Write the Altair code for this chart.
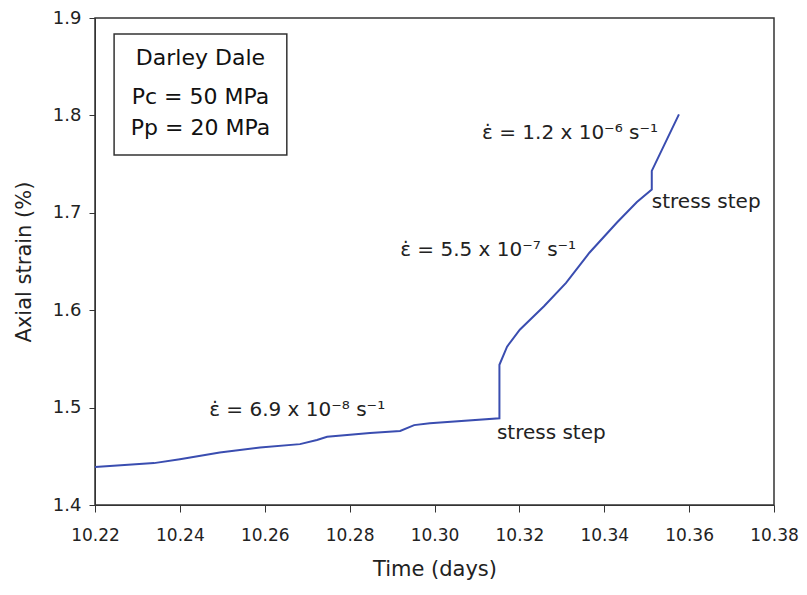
import altair as alt
import pandas as pd

# strain curve (time in days, axial strain in %)
time_days = [10.2200, 10.2339, 10.2400, 10.2494, 10.2589, 10.2683, 10.2723, 10.2747,
             10.2848, 10.2919, 10.2952, 10.2989, 10.3153, 10.3153, 10.3171, 10.3201,
             10.3258, 10.3310, 10.3365, 10.3430, 10.3477, 10.3512, 10.3512, 10.3576]
strain = [1.439, 1.443, 1.447, 1.454, 1.459, 1.4625, 1.4667, 1.470,
          1.474, 1.476, 1.482, 1.484, 1.489, 1.544, 1.5626, 1.580,
          1.604, 1.628, 1.659, 1.690, 1.711, 1.724, 1.743, 1.801]

# annotations
ann_text = ["ε̇ = 1.2 x 10⁻⁶ s⁻¹", "ε̇ = 5.5 x 10⁻⁷ s⁻¹", "ε̇ = 6.9 x 10⁻⁸ s⁻¹",
            "stress step", "stress step"]
ann_x = [10.3112, 10.2919, 10.2469, 10.3147, 10.3512]
ann_y = [1.782, 1.662, 1.4975, 1.474, 1.711]

# info box
box_lines = ["Darley Dale", "Pc = 50 MPa", "Pp = 20 MPa"]
box_line_y = [1.8589, 1.8189, 1.7871]
box_x0, box_x1 = 10.2245, 10.2652
box_y0, box_y1 = 1.7593, 1.8836

x_ticks = [10.22, 10.24, 10.26, 10.28, 10.30, 10.32, 10.34, 10.36, 10.38]
y_ticks = [1.4, 1.5, 1.6, 1.7, 1.8, 1.9]

FONT = "DejaVu Sans"

df = pd.DataFrame({"t": time_days, "s": strain, "i": list(range(len(time_days)))})
ann = pd.DataFrame({"t": ann_x, "s": ann_y, "label": ann_text})
box = pd.DataFrame({"x0": [box_x0], "x1": [box_x1], "y0": [box_y0], "y1": [box_y1]})
boxtxt = pd.DataFrame({"t": [(box_x0 + box_x1) / 2] * 3, "s": box_line_y, "label": box_lines})

xs = alt.Scale(domain=[10.22, 10.38], nice=False, zero=False)
ys = alt.Scale(domain=[1.4, 1.9], nice=False, zero=False)

line = alt.Chart(df).mark_line(color="#3a4db0", strokeWidth=2).encode(
    x=alt.X("t:Q", scale=xs,
            axis=alt.Axis(title="Time (days)", values=x_ticks, format=".2f", grid=False,
                          tickSize=7, labelPadding=15, titlePadding=15,
                          labelFontSize=17, titleFontSize=21, titleFontWeight="normal",
                          labelFont=FONT, titleFont=FONT, labelColor="#222", titleColor="#222",
                          domainColor="#333", tickColor="#333", labelFlush=False)),
    y=alt.Y("s:Q", scale=ys,
            axis=alt.Axis(title="Axial strain (%)", values=y_ticks, format=".1f", grid=False,
                          tickSize=6, labelPadding=8, titlePadding=18,
                          labelFontSize=18, titleFontSize=21, titleFontWeight="normal",
                          labelFont=FONT, titleFont=FONT, labelColor="#222", titleColor="#222",
                          domainColor="#333", tickColor="#333", labelFlush=False)),
    order="i:Q",
)

texts = alt.Chart(ann).mark_text(align="left", baseline="middle", fontSize=20,
                                 font=FONT, color="#222").encode(
    x=alt.X("t:Q", scale=xs), y=alt.Y("s:Q", scale=ys), text="label:N")

rect = alt.Chart(box).mark_rect(fill="white", stroke="#333", strokeWidth=1.5).encode(
    x=alt.X("x0:Q", scale=xs), x2="x1:Q", y=alt.Y("y0:Q", scale=ys), y2="y1:Q")

btxt = alt.Chart(boxtxt).mark_text(align="center", baseline="middle", fontSize=22,
                                   font=FONT, color="#111").encode(
    x=alt.X("t:Q", scale=xs), y=alt.Y("s:Q", scale=ys), text="label:N")

chart = alt.layer(rect, btxt, line, texts).properties(
    width=679, height=487,
    autosize=alt.AutoSizeParams(type="none"),
    padding={"left": 87, "top": 10, "right": 25, "bottom": 82},
    background="white",
).configure_view(stroke="#333", strokeWidth=1.5)

chart.save("out.html", embed_options={"renderer": "svg", "actions": False})
